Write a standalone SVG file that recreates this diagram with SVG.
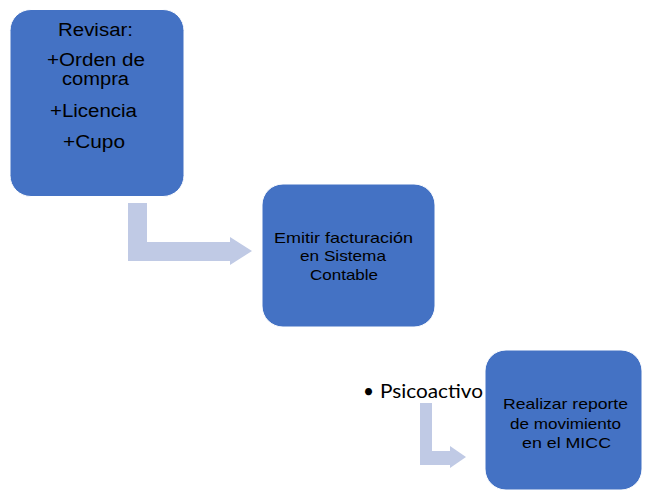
<svg xmlns="http://www.w3.org/2000/svg" width="645" height="491" viewBox="0 0 645 491">
  <style>
    .box { fill: #4472C4; stroke: #ffffff; stroke-width: 1; }
    .arrow { fill: #C0CAE5; stroke: none; }
    .t { font-family: "Liberation Sans", Arial, sans-serif; fill: #000000; text-anchor: start; }
    .big { font-size: 18px; }
    .mid { font-size: 15px; }
    .bul { font-family: Lato, "Open Sans", sans-serif; font-size: 19px; fill: #000000; }
  </style>
  <rect width="645" height="491" fill="#ffffff"/>
  <g id="connectors">
    <path class="arrow" d="M128,203 H147 V242 H230 V237 L252,251 L230,265 V261 H128 Z"/>
    <path class="arrow" d="M420,403 H432 V451 H450 V446 L466,457 L450,468 V465 H420 Z"/>
  </g>
  <g id="node-revisar">
    <rect class="box" x="10" y="9.5" width="174" height="187" rx="21" ry="21"/>
    <text class="t big" x="58" y="36" textLength="75" lengthAdjust="spacingAndGlyphs">Revisar:</text>
    <text class="t big" x="47" y="66" textLength="98" lengthAdjust="spacingAndGlyphs">+Orden de</text>
    <text class="t big" x="62" y="85" textLength="67" lengthAdjust="spacingAndGlyphs">compra</text>
    <text class="t big" x="50" y="117" textLength="87" lengthAdjust="spacingAndGlyphs">+Licencia</text>
    <text class="t big" x="63" y="148" textLength="62" lengthAdjust="spacingAndGlyphs">+Cupo</text>
  </g>
  <g id="node-emitir">
    <rect class="box" x="262" y="184" width="173" height="143" rx="21" ry="21"/>
    <text class="t mid" x="274" y="243" textLength="139" lengthAdjust="spacingAndGlyphs">Emitir facturación</text>
    <text class="t mid" x="300" y="261" textLength="86" lengthAdjust="spacingAndGlyphs">en Sistema</text>
    <text class="t mid" x="310" y="280" textLength="68" lengthAdjust="spacingAndGlyphs">Contable</text>
  </g>
  <g id="node-psicoactivo">
    <text class="bul" x="363" y="398">•</text>
    <text class="bul" x="380" y="398" textLength="103" lengthAdjust="spacingAndGlyphs">Psicoactivo</text>
  </g>
  <g id="node-realizar">
    <rect class="box" x="485" y="350" width="157" height="140" rx="21" ry="21"/>
    <text class="t mid" x="503" y="409" textLength="125" lengthAdjust="spacingAndGlyphs">Realizar reporte</text>
    <text class="t mid" x="510" y="429" textLength="111" lengthAdjust="spacingAndGlyphs">de movimiento</text>
    <text class="t mid" x="522" y="448" textLength="89" lengthAdjust="spacingAndGlyphs">en el MICC</text>
  </g>
</svg>
